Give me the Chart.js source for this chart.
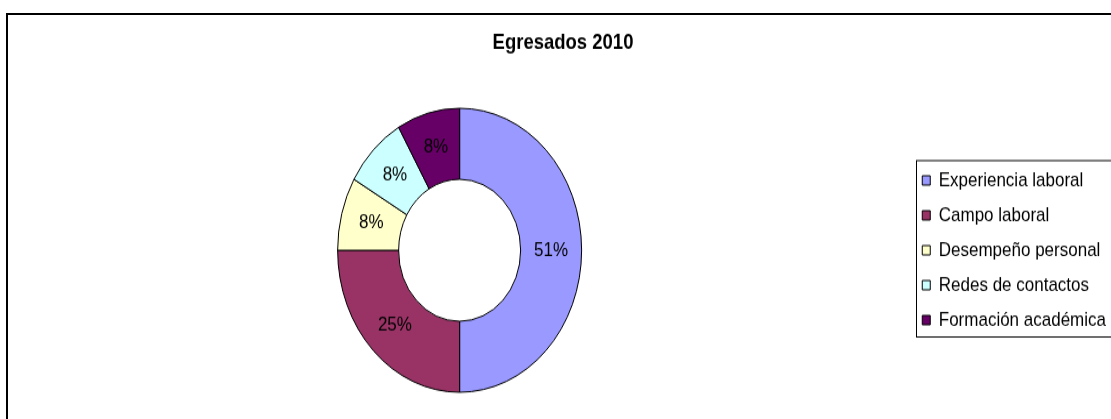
<!DOCTYPE html>
<html>
<head>
<meta charset="utf-8">
<title>Egresados 2010</title>
<script src="https://cdn.jsdelivr.net/npm/chart.js@4/dist/chart.umd.min.js"></script>
<style>
    body { margin: 0; background: #fff; }
    .wrap { position: relative; width: 1111px; height: 419px; overflow: hidden; background: #fff; }
    .frame { position: absolute; left: 6px; top: 13px; width: 1200px; height: 500px;
             border-top: 2px solid #000; border-left: 2px solid #000; }
    #egresadosChart { position: absolute; left: 0; top: 0; }
</style>
</head>
<body>
<div class="wrap">
    <div class="frame"></div>
    <!-- drawn at 360 high and shown at 419, like the stretched original -->
    <canvas id="egresadosChart" width="1130" height="360" style="width:1130px;height:419px"></canvas>
</div>
<script>
const chartTitle = 'Egresados 2010';
const categories = ['Experiencia laboral', 'Campo laboral', 'Desempeño personal', 'Redes de contactos', 'Formación académica'];
const values = [50, 25, 8.33, 8.33, 8.34];
const pctLabels = ['51%', '25%', '8%', '8%', '8%'];
const colors = ['#9999FF', '#993366', '#FFFFCC', '#CCFFFF', '#660066'];

const fontFamily = "'Liberation Sans', Arial, sans-serif";
Chart.defaults.color = '#000';
Chart.defaults.font.family = fontFamily;

// percentage text in the middle of each slice
const sliceLabels = {
    id: 'sliceLabels',
    afterDatasetsDraw(chart) {
        const ctx = chart.ctx;
        const meta = chart.getDatasetMeta(0);
        ctx.save();
        ctx.font = '17px ' + fontFamily;
        ctx.fillStyle = '#000';
        ctx.textAlign = 'center';
        ctx.textBaseline = 'middle';
        meta.data.forEach((arc, i) => {
            const pos = arc.tooltipPosition();
            ctx.fillText(pctLabels[i], pos.x, pos.y);
        });
        ctx.restore();
    }
};

// box around the legend, open on the right like the cropped original
const legendFrame = {
    id: 'legendFrame',
    afterDraw(chart) {
        const boxes = chart.legend.legendHitBoxes;
        if (!boxes || !boxes.length) return;
        const last = boxes[boxes.length - 1];
        const left = boxes[0].left - 6;
        const top = boxes[0].top - 8.5;
        const bottom = last.top + last.height + 6;
        const ctx = chart.ctx;
        ctx.save();
        ctx.strokeStyle = '#000';
        ctx.lineWidth = 1;
        ctx.strokeRect(Math.round(left) + 0.5, top, chart.width, bottom - top);
        ctx.restore();
    }
};

new Chart(document.getElementById('egresadosChart'), {
    type: 'doughnut',
    data: {
        labels: categories,
        datasets: [{
            data: values,
            backgroundColor: colors,
            borderColor: '#000',
            borderWidth: 1,
            borderAlign: 'center'
        }]
    },
    options: {
        responsive: false,
        maintainAspectRatio: false,
        animation: false,
        cutout: '50%',
        layout: {
            padding: { left: 10, right: 14, top: 16, bottom: 22.5 }
        },
        plugins: {
            title: {
                display: true,
                text: chartTitle,
                color: '#000',
                font: { size: 18.5, weight: 'bold', family: fontFamily },
                padding: { top: 10.3, bottom: 44 }
            },
            legend: {
                position: 'right',
                fullSize: false,
                labels: {
                    boxWidth: 8,
                    boxHeight: 8,
                    padding: 13,
                    color: '#000',
                    font: { size: 17, family: fontFamily }
                }
            },
            tooltip: { enabled: false }
        }
    },
    plugins: [sliceLabels, legendFrame]
});
</script>
</body>
</html>
